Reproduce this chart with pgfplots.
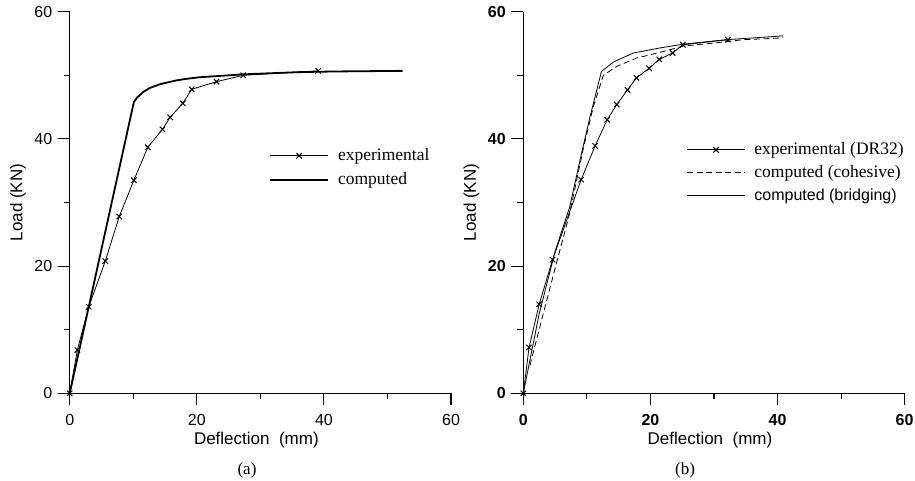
\documentclass[border=0pt]{standalone}
\usepackage{fontspec}
\setmainfont{Liberation Serif}
\newfontfamily\arial{Liberation Sans}
\usepackage{pgfplots}
\pgfplotsset{compat=1.18}
\pgfplotsset{
  panel/.style={
    anchor=south west, scale only axis,
    width=381.3pt, height=381.6pt,
    xmin=0, xmax=60, ymin=0, ymax=60,
    axis x line*=bottom, axis y line*=left,
    axis line style={-, line width=1.1pt},
    xtick={0,20,40,60}, ytick={0,20,40,60},
    minor xtick={10,30,50}, minor ytick={10,30,50},
    tick align=outside, major tick length=12pt, minor tick length=6pt,
    every tick/.style={black, line width=1.1pt},
    /pgf/number format/assume math mode=true,
    xticklabel style={yshift=-5pt},
    yticklabel style={xshift=-2pt},
    xlabel={Deflection~~(mm)}, ylabel={Load (KN)},
    label style={font=\arial\fontsize{17}{18}\selectfont},
    xlabel style={at={(axis description cs:0.4895,-0.1224)}, anchor=center},
    ylabel style={at={(axis description cs:-0.1356,0.5)}, anchor=center},
    legend style={draw=none, fill=none, inner sep=0pt, outer sep=0pt,
      column sep=0pt, anchor=west,
      nodes={inner sep=0pt, text height=12pt, text depth=4pt, anchor=base west,
        font=\fontsize{17.5}{18}\selectfont}},
    legend cell align=left,
    legend image code/.code={
      \draw[mark repeat=2,mark phase=2,#1] plot coordinates {(0pt,5pt) (29pt,5pt) (58pt,5pt)};
      \path (67pt,5pt);},
  },
  expstyle/.style={black, line width=0.8pt, mark=x, mark size=3.8pt, mark options={solid, line width=1pt}},
}
\begin{document}
\begin{tikzpicture}
\useasboundingbox (0pt,0pt) rectangle (915pt,481pt);
% ---------- panel (a)
\begin{axis}[panel, at={(69.7pt,87.7pt)},
  tick label style={font=\arial\fontsize{16}{17}\selectfont},
  legend style={at={(axis cs:31.4,35.3)}, /tikz/row sep=8pt}]
\addplot[expstyle] coordinates {
(0,0) (1.2,6.8) (3.0,13.6) (5.6,20.8) (7.8,27.8) (10.1,33.5) (12.3,38.7)
(14.6,41.5) (15.8,43.4) (17.8,45.6) (19.2,47.8) (23.1,49.0) (27.3,50.0) (39.1,50.7)};
\addlegendentry{experimental}
\addplot[black, line width=1.8pt, mark=none] coordinates {
(0,0) (10.1,45.8) (10.6,46.5) (11.6,47.4) (12.6,48.0) (14.2,48.6) (16.8,49.2) (18.4,49.45)
(20.5,49.7) (23.6,49.9) (27.3,50.15) (31,50.3) (36.2,50.5) (41.5,50.6) (52.4,50.7)};
\addlegendentry{computed}
\end{axis}
% ---------- panel (b)
\begin{axis}[panel, at={(523.3pt,87.7pt)},
  tick label style={font=\arial\bfseries\fontsize{16}{17}\selectfont},
  legend style={at={(axis cs:25.7,34.5)}, /tikz/row sep=7pt}]
\addplot[expstyle] coordinates {
(0,0) (0.9,7.2) (2.5,14.0) (4.6,21.0) (9.1,33.6) (11.3,38.9) (13.2,43.0)
(14.7,45.4) (16.4,47.7) (17.8,49.6) (19.8,51.1) (21.4,52.5) (23.5,53.5) (25.1,54.8) (32.2,55.6)};
\addlegendentry{experimental (DR32)}
\addplot[black, line width=0.8pt, dash pattern=on 6pt off 3.5pt, mark=none] coordinates {
(1.05,4.4) (3.0,12.0) (5.2,20.4) (7.3,28.3) (9.4,38.3) (11.0,45.0) (12.6,50.0)
(14.7,51.4) (17.8,52.7) (21.5,53.6) (25.2,54.6) (29.4,55.0) (34.6,55.6) (39.3,55.8) (40.9,55.9)};
\addlegendentry{computed (cohesive)}
\addplot[black, line width=0.8pt, mark=none] coordinates {
(0,0) (2.5,12.5) (5.0,22.3) (7.3,29.3) (9.0,37.0) (10.5,43.5) (12.3,50.6)
(14.2,52.1) (17.3,53.5) (21.5,54.3) (25.2,54.9) (32.0,55.6) (40.9,56.2)};
\addlegendentry{\arial\fontsize{16}{18}\selectfont computed (bridging)}
\end{axis}
\node[font=\fontsize{17}{18}\selectfont] at (247pt,11pt) {(a)};
\node[font=\fontsize{17}{18}\selectfont] at (685pt,11pt) {(b)};
\end{tikzpicture}
\end{document}
